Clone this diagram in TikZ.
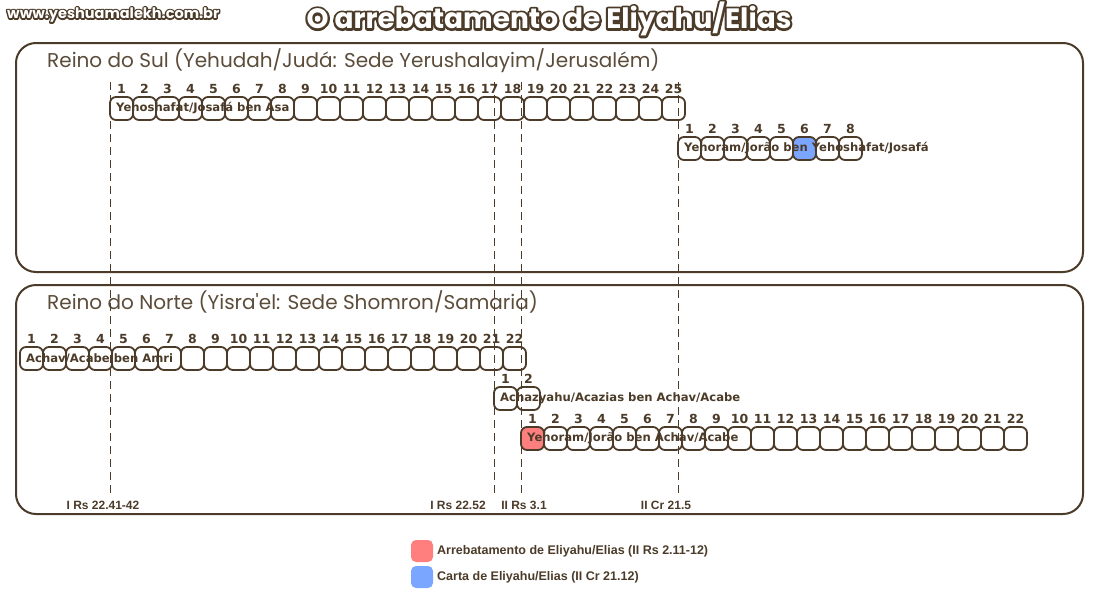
\documentclass[tikz,border=0pt]{standalone}
\usepackage{fontspec}
\setmainfont{Liberation Sans}
\newfontfamily\roundfont{Poppins}
\newfontfamily\widefont{DejaVu Sans}
\definecolor{ink}{HTML}{4B3B28}
\definecolor{hand}{HTML}{5C4C3A}
\definecolor{blueA}{HTML}{7BA6FF}
\definecolor{redA}{HTML}{FF7F7F}
\tikzset{
  panel/.style={draw=ink, line width=2pt, rounded corners=20pt},
  cell/.style={draw=ink, line width=1.8pt, rounded corners=6pt, minimum width=23pt, minimum height=23pt, inner sep=0pt},
  num/.style={text=ink, font=\widefont\fontsize{12.5}{14}\selectfont\bfseries, inner sep=0pt},
  celltext/.style={text=ink, font=\widefont\fontsize{11.6}{13}\selectfont\bfseries, inner sep=0pt, anchor=west},
  dashline/.style={draw=ink, line width=1pt, dash pattern=on 8pt off 5pt},
  reftext/.style={text=ink, font=\fontsize{12}{14}\selectfont\bfseries, inner sep=0pt},
  legbox/.style={fill=#1, rounded corners=5pt, minimum width=22pt, minimum height=22pt, inner sep=0pt},
  legtext/.style={text=ink, font=\fontsize{12.5}{14}\selectfont\bfseries, inner sep=0pt, anchor=west},
  paneltitle/.style={text=hand, font=\roundfont\fontsize{20}{24}\selectfont, inner sep=0pt, anchor=west},
}
% outlined text: brown stroked copy underneath, white fill on top
\newcommand\outlinetext[2]{%
  \special{pdf:literal direct 1 j 1 J #1 w 2 Tr 0.294 0.231 0.157 RG 0.294 0.231 0.157 rg}\rlap{#2}%
  \special{pdf:literal direct 0 Tr 1 1 1 rg}#2%
  \special{pdf:literal direct 0 0 0 rg 0 0 0 RG}}
% name, x0, top, n, special index, special colour
\newcommand\yearrow[6]{%
  \foreach \i in {1,...,#4} {
    \ifnum\i=#5 \def\cf{#6}\else\def\cf{white}\fi
    \node[cell, fill=\cf] (#1-\i) at ({#2+23*(\i-0.5)}, {#3+11.5}) {};
    \node[num] (#1-n\i) at ({#2+23*(\i-0.5)}, {#3-8}) {\i};
  }}
\begin{document}
\begin{tikzpicture}[x=1pt, y=-1pt]
\useasboundingbox (0,0) rectangle (1100,600);
\fill[white] (0,0) rectangle (1100,600);

% header
\node[font=\roundfont\fontsize{14.5}{16}\selectfont\bfseries, inner sep=0pt, anchor=west] (site) at (7,15) {\outlinetext{3}{www.yeshuamalekh.com.br}};
\node[font=\roundfont\fontsize{28}{32}\selectfont\bfseries, inner sep=0pt] (title) at (549,19) {\outlinetext{4.5}{O arrebatamento de Eliyahu/Elias}};

% panels
\draw[panel] (16,43) rectangle (1083,272);
\draw[panel] (16,285) rectangle (1083,514);
\node[paneltitle] (tsul) at (47,61) {Reino do Sul (Yehudah/Judá: Sede Yerushalayim/Jerusalém)};
\node[paneltitle] (tnorte) at (47,302) {Reino do Norte (Yisra'el: Sede Shomron/Samaria)};

% year rows
\yearrow{s1}{110}{97}{25}{0}{white}
\yearrow{s2}{678}{137}{8}{6}{blueA}
\yearrow{n1}{20}{347}{22}{0}{white}
\yearrow{n2}{494}{387}{2}{0}{white}
\yearrow{n3}{521}{427}{22}{1}{redA}

% reign labels
\node[celltext] (k1) at (116,108.5) {Yehoshafat/Josafá ben Asa};
\node[celltext] (k2) at (684,148.5) {Yehoram/Jorão ben Yehoshafat/Josafá};
\node[celltext] (k3) at (26,358.5) {Achav/Acabe ben Amri};
\node[celltext] (k4) at (500,398.5) {Achazyahu/Acazias ben Achav/Acabe};
\node[celltext] (k5) at (527,438.5) {Yehoram/Jorão ben Achav/Acabe};

% synchronism lines
\coordinate (d1t) at (110,82);   \coordinate (d1b) at (110,493);
\coordinate (d2t) at (494.5,82); \coordinate (d2b) at (494.5,493);
\coordinate (d3t) at (521,82);   \coordinate (d3b) at (521,493);
\coordinate (d4t) at (678,82);   \coordinate (d4b) at (678,493);
\draw[dashline] (d1t) -- (d1b);
\draw[dashline] (d2t) -- (d2b);
\draw[dashline] (d3t) -- (d3b);
\draw[dashline] (d4t) -- (d4b);

% references
\node[reftext] (r1) at (103,505) {I Rs 22.41-42};
\node[reftext] (r2) at (458,505) {I Rs 22.52};
\node[reftext] (r3) at (524,505) {II Rs 3.1};
\node[reftext] (r4) at (666,505) {II Cr 21.5};

% legend
\node[legbox=redA] (lred) at (422,551) {};
\node[legtext] (lredt) at (437,551) {Arrebatamento de Eliyahu/Elias (II Rs 2.11-12)};
\node[legbox=blueA] (lblue) at (422,577) {};
\node[legtext] (lbluet) at (437,577) {Carta de Eliyahu/Elias (II Cr 21.12)};
\end{tikzpicture}
\end{document}
